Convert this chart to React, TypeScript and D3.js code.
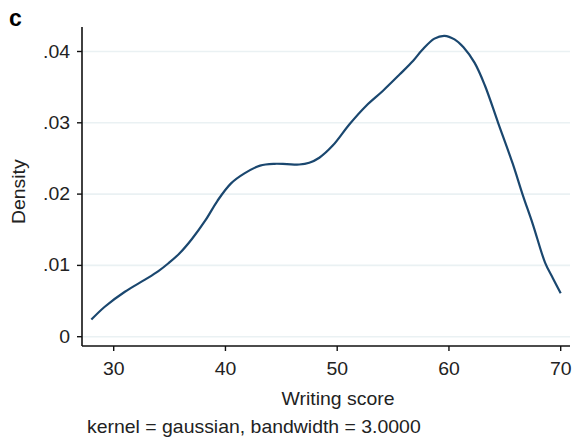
import React from "react";
import * as d3 from "d3";

// Kernel density estimate of writing scores (gaussian kernel, bw = 3)
const scores = [
  28.0, 29.2, 31.0, 32.8, 34.0, 34.9, 35.9, 37.0, 38.2, 39.3, 40.5, 41.7,
  43.1, 44.4, 45.5, 46.6, 47.5, 48.4, 49.6, 51.1, 52.6, 54.1, 55.6, 56.8,
  57.6, 58.7, 59.6, 60.5, 61.3, 62.3, 63.2, 64.4, 65.7, 66.6, 67.5, 68.6,
  69.3, 70.0,
];
const density = [
  0.0024, 0.0042, 0.0063, 0.008, 0.0092, 0.0103, 0.0117, 0.0137, 0.0163,
  0.0191, 0.0215, 0.0229, 0.024, 0.02425, 0.0242, 0.02415, 0.0244, 0.0251,
  0.0268, 0.0298, 0.0324, 0.0345, 0.0368, 0.0387, 0.0402, 0.0418, 0.0422,
  0.0417, 0.0406, 0.0384, 0.0353, 0.03, 0.0243, 0.0199, 0.0158, 0.0104,
  0.0082, 0.0061,
];
const xTicks = [30, 40, 50, 60, 70];
const yTicks = [0, 0.01, 0.02, 0.03, 0.04];
const yTickLabels = ["0", ".01", ".02", ".03", ".04"];

const W = 578;
const H = 441;
const plotLeft = 82;
const plotRight = 570;
const plotTop = 27;
const plotBottom = 346;

const FONT = "'Liberation Sans', Arial, Helvetica, sans-serif";
const FS = 18;
const STRETCH = 1.08;

function Label({
  x,
  y,
  anchor = "start",
  size = FS,
  weight = "normal",
  rotate = 0,
  children,
}: {
  x: number;
  y: number;
  anchor?: "start" | "middle" | "end";
  size?: number;
  weight?: string;
  rotate?: number;
  children: React.ReactNode;
}) {
  return (
    <text
      transform={`translate(${x},${y}) rotate(${rotate}) scale(${STRETCH},1)`}
      textAnchor={anchor}
      fontFamily={FONT}
      fontSize={size}
      fontWeight={weight}
      fill="#222"
    >
      {children}
    </text>
  );
}

export default function App() {
  const x = d3.scaleLinear().domain([30, 70]).range([113.7, 560.7]);
  const y = d3.scaleLinear().domain([0, 0.04]).range([336.7, 51.5]);

  const pts = scores.map((s, i) => [s, density[i]] as [number, number]);
  const line = d3
    .line<[number, number]>()
    .x((d) => x(d[0]))
    .y((d) => y(d[1]))
    .curve(d3.curveCatmullRom.alpha(0.5));

  return (
    <svg
      width={W}
      height={H}
      style={{ position: "absolute", left: 0, top: 0, background: "#fff" }}
    >
      {/* horizontal grid */}
      {yTicks.map((t) => (
        <line
          key={`g${t}`}
          x1={plotLeft}
          x2={plotRight}
          y1={y(t)}
          y2={y(t)}
          stroke="#eaf1f3"
          strokeWidth={1.6}
        />
      ))}

      {/* density curve */}
      <path
        d={line(pts) ?? ""}
        fill="none"
        stroke="#1a476f"
        strokeWidth={2.2}
        strokeLinejoin="round"
      />

      {/* y axis */}
      <line x1={plotLeft} x2={plotLeft} y1={plotTop} y2={plotBottom} stroke="#111" strokeWidth={1.6} />
      {yTicks.map((t, i) => (
        <g key={`y${t}`}>
          <line x1={plotLeft - 5} x2={plotLeft} y1={y(t)} y2={y(t)} stroke="#111" strokeWidth={1.4} />
          <Label x={70} y={y(t) + 6} anchor="end">
            {yTickLabels[i]}
          </Label>
        </g>
      ))}

      {/* x axis */}
      <line x1={plotLeft} x2={plotRight} y1={plotBottom} y2={plotBottom} stroke="#111" strokeWidth={1.6} />
      {xTicks.map((t) => (
        <g key={`x${t}`}>
          <line x1={x(t)} x2={x(t)} y1={plotBottom} y2={plotBottom + 5} stroke="#111" strokeWidth={1.4} />
          <Label x={x(t)} y={375.3} anchor="middle">
            {t}
          </Label>
        </g>
      ))}

      {/* titles */}
      <Label x={338} y={405} anchor="middle">
        Writing score
      </Label>
      <Label x={25} y={191.7} anchor="middle" rotate={-90}>
        Density
      </Label>
      <Label x={87} y={433}>
        kernel = gaussian, bandwidth = 3.0000
      </Label>
      <text x={9} y={25.7} fontFamily={FONT} fontSize={23} fontWeight="bold" fill="#000">
        c
      </text>
    </svg>
  );
}
